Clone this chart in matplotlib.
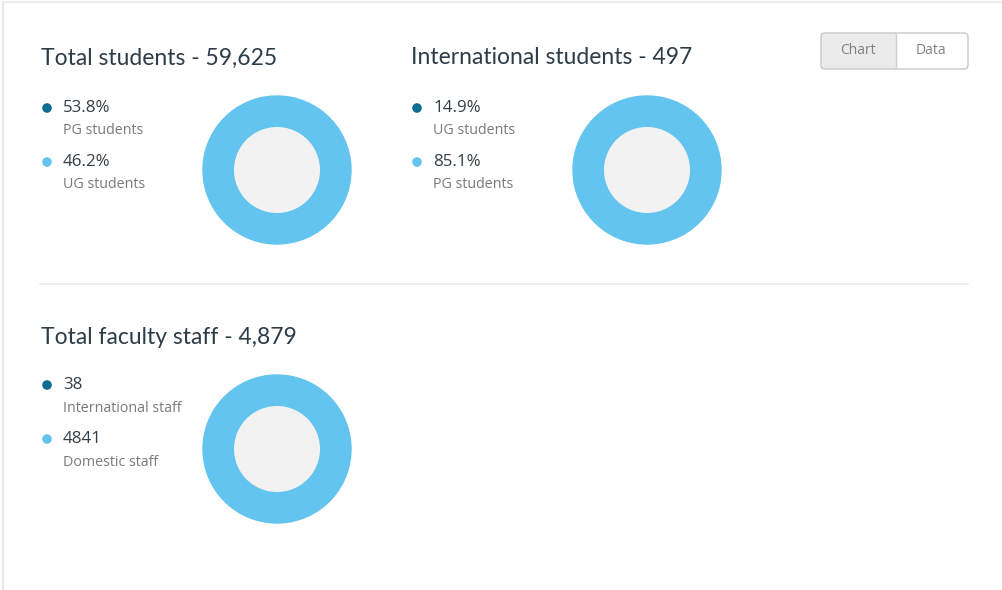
import matplotlib
matplotlib.use("Agg")
import matplotlib.pyplot as plt
from matplotlib.patches import Circle, FancyBboxPatch, Rectangle

# ---- data ----
panel_titles = ["Total students - 59,625", "International students - 497", "Total faculty staff - 4,879"]
panel_values = [[53.8, 46.2], [14.9, 85.1], [38, 4841]]
panel_value_labels = [["53.8%", "46.2%"], ["14.9%", "85.1%"], ["38", "4841"]]
panel_names = [["PG students", "UG students"], ["UG students", "PG students"],
               ["International staff", "Domestic staff"]]
toggle_labels = ["Chart", "Data"]

# ---- style ----
DARK = "#0f6d92"
LIGHT = "#62c4ef"
HOLE = "#f2f2f2"
TITLE_C = "#2c3d48"
VAL_C = "#333f48"
SUB_C = "#7a7a7a"

W, H = 1003, 590
fig = plt.figure(figsize=(W / 100, H / 100), dpi=100)
ax = fig.add_axes([0, 0, 1, 1])
ax.set_xlim(0, W)
ax.set_ylim(H, 0)
ax.axis("off")

# frame edges and divider
ax.plot([3.5, 3.5], [2, H], color="#e4e4e4", lw=1.2)
ax.plot([3.5, W], [2, 2], color="#eeeeee", lw=1.5)
ax.plot([40, 968], [284, 284], color="#ebebeb", lw=1.2)

# panel anchors: (title x, title y, legend top y, donut center x, donut center y)
anchors = [(41, 58, 108, 277, 170), (411, 58, 108, 647, 170), (41, 338, 385, 277, 449)]
R_OUT, R_IN = 74, 43

for i, (tx, ty, ly, cx, cy) in enumerate(anchors):
    ax.text(tx, ty, panel_titles[i], fontsize=16.5, family="Lato", color=TITLE_C,
            va="center", ha="left")
    for j, (vl, nm) in enumerate(zip(panel_value_labels[i], panel_names[i])):
        y = ly + j * 54
        ax.add_patch(Circle((tx + 6, y), 4.8, color=DARK if j == 0 else LIGHT, lw=0))
        ax.text(tx + 22, y, vl, fontsize=12.2, family="Open Sans", color=VAL_C,
                va="center", ha="left")
        ax.text(tx + 22, y + 23, nm, fontsize=10.3, family="Open Sans", color=SUB_C,
                va="center", ha="left")
    ax.pie(panel_values[i], center=(cx, cy), radius=R_OUT, colors=[LIGHT, LIGHT],
           startangle=90, counterclock=False,
           wedgeprops=dict(width=R_OUT - R_IN, linewidth=1.0, edgecolor=LIGHT))
    ax.add_patch(Circle((cx, cy), R_IN, color=HOLE, lw=0))

# Chart / Data toggle
ax.add_patch(Rectangle((821, 33), 75, 36, facecolor="#ebebeb", edgecolor="none"))
ax.add_patch(FancyBboxPatch((821, 33), 147, 36, boxstyle="round,pad=0,rounding_size=4",
                            facecolor="none", edgecolor="#c8c8c8", lw=1))
ax.plot([896, 896], [33, 69], color="#d0d0d0", lw=1)
ax.text(858, 51, toggle_labels[0], fontsize=10, family="Open Sans", color="#808080",
        ha="center", va="center")
ax.text(931, 51, toggle_labels[1], fontsize=10, family="Open Sans", color="#808080",
        ha="center", va="center")

ax.set_xlim(0, W)
ax.set_ylim(H, 0)
ax.set_aspect("auto")
fig.savefig("out.png", dpi=100, facecolor="white")
